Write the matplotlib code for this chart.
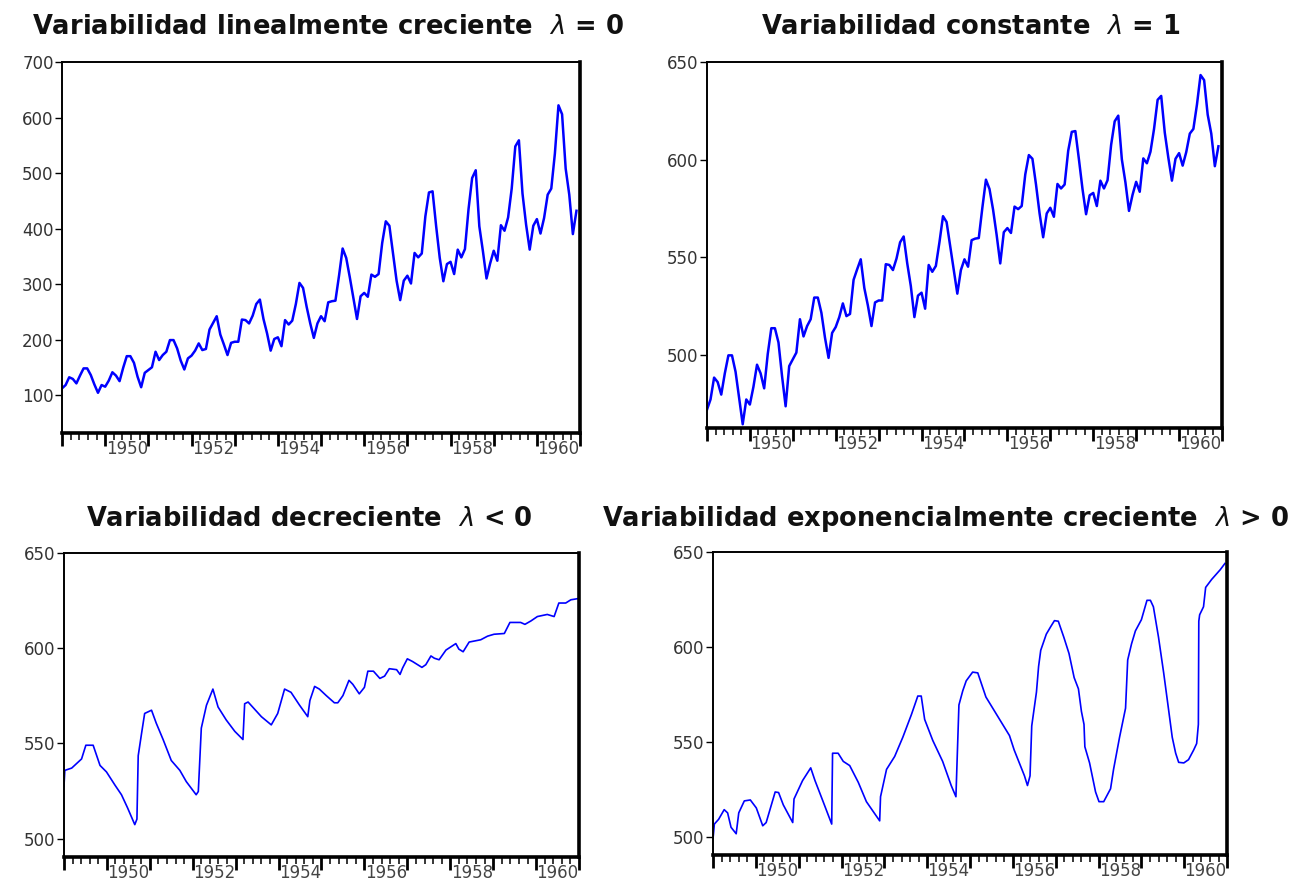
import matplotlib
matplotlib.use("Agg")
import matplotlib.pyplot as plt
import numpy as np
from matplotlib.ticker import MultipleLocator, NullFormatter

# monthly airline passengers 1949-1960 (top left panel)
passengers = [
    112, 118, 132, 129, 121, 135, 148, 148, 136, 119, 104, 118,
    115, 126, 141, 135, 125, 149, 170, 170, 158, 133, 114, 140,
    145, 150, 178, 163, 172, 178, 199, 199, 184, 162, 146, 166,
    171, 180, 193, 181, 183, 218, 230, 242, 209, 191, 172, 194,
    196, 196, 236, 235, 229, 243, 264, 272, 237, 211, 180, 201,
    204, 188, 235, 227, 234, 264, 302, 293, 259, 229, 203, 229,
    242, 233, 267, 269, 270, 315, 364, 347, 312, 274, 237, 278,
    284, 277, 317, 313, 318, 374, 413, 405, 355, 306, 271, 306,
    315, 301, 356, 348, 355, 422, 465, 467, 404, 347, 305, 336,
    340, 318, 362, 348, 363, 435, 491, 505, 404, 359, 310, 337,
    360, 342, 406, 396, 420, 472, 548, 559, 463, 407, 362, 405,
    417, 391, 419, 461, 472, 535, 622, 606, 508, 461, 390, 432,
]

# top right panel (constant variability)
constant_var = [
    471.8, 477.1, 488.3, 486.0, 479.6, 490.5, 499.7, 499.7, 491.3, 477.9, 464.4, 477.1,
    474.5, 483.6, 494.9, 490.5, 482.8, 500.4, 513.6, 513.6, 506.3, 489.0, 473.6, 494.2,
    497.7, 501.1, 518.2, 509.4, 514.7, 518.2, 529.3, 529.3, 521.5, 508.8, 498.4, 511.2,
    514.2, 519.3, 526.3, 519.8, 520.9, 538.4, 543.8, 548.9, 534.2, 525.2, 514.7, 526.8,
    527.8, 527.8, 546.4, 546.0, 543.4, 549.3, 557.6, 560.6, 546.8, 535.2, 519.3, 530.3,
    531.8, 523.6, 546.0, 542.5, 545.5, 557.6, 571.0, 568.0, 555.7, 543.4, 531.3, 543.4,
    548.9, 545.1, 558.7, 559.5, 559.8, 575.3, 589.7, 584.9, 574.3, 561.3, 546.8, 562.8,
    564.9, 562.4, 575.9, 574.6, 576.2, 592.4, 602.3, 600.4, 587.2, 572.4, 560.2, 572.4,
    575.3, 570.7, 587.5, 585.2, 587.2, 604.5, 614.2, 614.6, 600.1, 584.9, 572.0, 581.7,
    582.9, 576.2, 589.2, 585.2, 589.4, 607.5, 619.6, 622.5, 600.1, 588.3, 573.7, 582.0,
    588.6, 583.5, 600.6, 598.1, 604.0, 615.7, 630.6, 632.6, 613.8, 600.9, 589.2, 600.4,
    603.3, 596.9, 603.8, 613.3, 615.7, 628.2, 643.3, 640.7, 623.0, 613.3, 596.6, 606.8,
]

# bottom left panel (decreasing variability)
dec_year = [
    1949.00, 1949.02, 1949.18, 1949.41, 1949.51, 1949.68, 1949.84, 1949.99,
    1950.19, 1950.34, 1950.48, 1950.65, 1950.70, 1950.73, 1950.81, 1950.88,
    1951.04, 1951.15, 1951.31, 1951.50, 1951.70, 1951.85, 1952.08, 1952.13,
    1952.20, 1952.32, 1952.47, 1952.59, 1952.78, 1952.98, 1953.17, 1953.21,
    1953.29, 1953.60, 1953.83, 1953.98, 1954.14, 1954.29, 1954.49, 1954.68,
    1954.73, 1954.84, 1954.95, 1955.11, 1955.30, 1955.38, 1955.50, 1955.64,
    1955.73, 1955.88, 1956.00, 1956.08, 1956.21, 1956.36, 1956.47, 1956.58,
    1956.75, 1956.83, 1956.89, 1957.00, 1957.12, 1957.34, 1957.43, 1957.55,
    1957.63, 1957.74, 1957.90, 1958.13, 1958.20, 1958.30, 1958.44, 1958.71,
    1958.87, 1959.02, 1959.26, 1959.39, 1959.64, 1959.74, 1959.88, 1960.03,
    1960.26, 1960.42, 1960.53, 1960.69, 1960.81, 1960.97,
]
dec_value = [
    527.3, 535.8, 537.0, 541.8, 549.0, 549.0, 538.4, 535.0,
    528.0, 523.0, 516.2, 507.3, 510.2, 543.5, 555.5, 565.7,
    567.4, 560.6, 552.0, 541.0, 535.8, 529.9, 523.0, 524.7,
    558.0, 570.0, 578.5, 569.1, 562.3, 556.3, 552.0, 570.8,
    571.7, 564.0, 559.7, 565.7, 578.5, 576.8, 570.0, 564.0,
    572.5, 579.9, 578.5, 575.1, 571.3, 571.3, 575.1, 583.1,
    581.0, 576.0, 579.4, 587.9, 587.9, 584.1, 585.3, 589.2,
    588.7, 586.2, 589.6, 594.4, 593.0, 589.9, 591.3, 595.9,
    594.7, 593.9, 599.0, 602.4, 599.5, 598.1, 603.2, 604.4,
    606.3, 607.3, 607.7, 613.5, 613.5, 612.5, 614.3, 616.6,
    617.7, 616.6, 623.7, 623.7, 625.4, 626.0,
]

# bottom right panel (exponentially increasing variability)
exp_year = [
    1949.00, 1949.03, 1949.13, 1949.26, 1949.34, 1949.42, 1949.54, 1949.60,
    1949.73, 1949.87, 1950.01, 1950.16, 1950.24, 1950.45, 1950.53, 1950.64,
    1950.86, 1950.89, 1951.09, 1951.28, 1951.38, 1951.57, 1951.77, 1951.79,
    1951.92, 1952.04, 1952.19, 1952.39, 1952.58, 1952.89, 1952.91, 1953.05,
    1953.24, 1953.43, 1953.63, 1953.78, 1953.86, 1953.94, 1954.13, 1954.36,
    1954.56, 1954.67, 1954.74, 1954.83, 1954.91, 1955.06, 1955.18, 1955.37,
    1955.53, 1955.76, 1955.92, 1956.03, 1956.15, 1956.27, 1956.34, 1956.40,
    1956.44, 1956.55, 1956.60, 1956.65, 1956.78, 1956.89, 1956.97, 1957.06,
    1957.19, 1957.31, 1957.43, 1957.53, 1957.60, 1957.66, 1957.68, 1957.79,
    1957.93, 1958.01, 1958.12, 1958.28, 1958.35, 1958.49, 1958.63, 1958.68,
    1958.77, 1958.86, 1959.00, 1959.13, 1959.21, 1959.28, 1959.40, 1959.52,
    1959.62, 1959.72, 1959.80, 1959.87, 1959.99, 1960.10, 1960.22, 1960.29,
    1960.33, 1960.34, 1960.36, 1960.45, 1960.50, 1960.64, 1960.84, 1960.95,
]
exp_value = [
    499.2, 506.8, 509.3, 514.4, 512.7, 505.1, 501.7, 512.7,
    519.0, 519.5, 515.3, 505.9, 507.6, 523.7, 523.4, 516.9,
    507.6, 520.0, 529.7, 536.4, 529.7, 518.6, 506.8, 544.1,
    544.1, 539.8, 537.6, 528.8, 518.6, 508.5, 521.2, 535.6,
    542.4, 552.5, 564.4, 574.2, 574.2, 561.9, 550.8, 539.8,
    527.1, 521.2, 569.5, 577.0, 582.2, 586.8, 586.4, 573.7,
    567.8, 559.3, 553.4, 545.8, 539.0, 532.2, 527.1, 532.2,
    558.5, 576.3, 589.8, 598.3, 606.8, 611.0, 613.9, 613.6,
    605.1, 596.6, 583.9, 578.0, 566.1, 559.3, 547.5, 539.0,
    523.7, 518.6, 518.6, 525.4, 535.6, 552.5, 567.8, 593.2,
    601.7, 608.5, 614.4, 624.6, 624.6, 621.2, 605.1, 586.4,
    569.5, 552.5, 544.1, 539.3, 539.0, 540.7, 545.8, 549.2,
    559.3, 613.6, 617.0, 621.2, 631.4, 635.6, 640.7, 644.0,
]

year_labels = [1950, 1952, 1954, 1956, 1958, 1960]
titles = [
    r"Variabilidad linealmente creciente  $\lambda$ = 0",
    r"Variabilidad constante  $\lambda$ = 1",
    r"Variabilidad decreciente  $\lambda$ < 0",
    r"Variabilidad exponencialmente creciente  $\lambda$ > 0",
]

BLUE = "#0000ff"

fig = plt.figure(figsize=(13, 8.89), dpi=100)
fig.patch.set_facecolor("white")

ax_tl = fig.add_axes([0.0477, 0.5129, 0.3985, 0.4173])
ax_tr = fig.add_axes([0.5438, 0.5186, 0.3962, 0.4117])
ax_bl = fig.add_axes([0.0492, 0.0360, 0.3962, 0.3420])
ax_br = fig.add_axes([0.5485, 0.0382, 0.3954, 0.3408])


def style_axes(ax, ylim, yticks):
    ax.set_xlim(1949, 1961)
    ax.set_ylim(*ylim)
    ax.set_yticks(yticks)
    ax.xaxis.set_major_locator(MultipleLocator(1))
    ax.xaxis.set_minor_locator(MultipleLocator(0.2))
    ax.xaxis.set_major_formatter(NullFormatter())
    ax.tick_params(axis="x", which="major", length=9, width=2.0, color="black")
    ax.tick_params(axis="x", which="minor", length=5, width=1.1, color="black")
    ax.tick_params(axis="y", length=5, width=1.0, pad=1, labelsize=12,
                   labelcolor="#333333")
    for side in ("left", "top"):
        ax.spines[side].set_linewidth(1.4)
    for side in ("right", "bottom"):
        ax.spines[side].set_linewidth(2.6)
    # year labels sit in the middle of each year
    sec = ax.secondary_xaxis("bottom")
    sec.set_xticks(np.array(year_labels) + 0.5, [str(y) for y in year_labels])
    sec.tick_params(length=0, pad=5, labelsize=12, labelcolor="#444444")
    sec.spines["bottom"].set_visible(False)


months = 1949 + np.arange(len(passengers)) / 12

ax_tl.plot(months, passengers, color=BLUE, linewidth=1.8)
style_axes(ax_tl, (31.5, 700), [100, 200, 300, 400, 500, 600, 700])

ax_tr.plot(months, constant_var, color=BLUE, linewidth=1.8)
style_axes(ax_tr, (462.5, 650), [500, 550, 600, 650])

ax_bl.plot(dec_year, dec_value, color=BLUE, linewidth=1.2)
style_axes(ax_bl, (490.3, 650), [500, 550, 600, 650])

ax_br.plot(exp_year, exp_value, color=BLUE, linewidth=1.2)
style_axes(ax_br, (490.5, 650), [500, 550, 600, 650])

title_pos = [(328, 27), (971, 27), (309, 519), (945, 519)]
for t, (px, py) in zip(titles, title_pos):
    fig.text(px / 1300, 1 - py / 889, t, ha="center", va="center",
             fontsize=18.5, fontweight="bold", color="#111111")

fig.savefig("out.png", dpi=100, facecolor="white")
